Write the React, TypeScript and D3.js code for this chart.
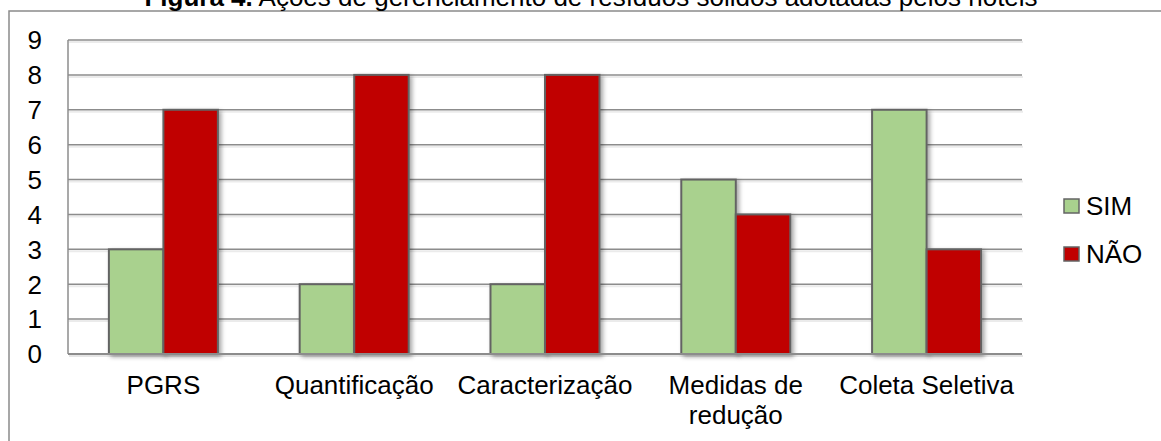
import React from "react";
import * as d3 from "d3";

const categories: string[][] = [
  ["PGRS"],
  ["Quantificação"],
  ["Caracterização"],
  ["Medidas de", "redução"],
  ["Coleta Seletiva"],
];
const categoryKeys = ["PGRS", "Quantificação", "Caracterização", "Medidas de redução", "Coleta Seletiva"];
const seriesNames = ["SIM", "NÃO"];
const simValues = [3, 2, 2, 5, 7];
const naoValues = [7, 8, 8, 4, 3];
const yTicks = [0, 1, 2, 3, 4, 5, 6, 7, 8, 9];
const seriesColors = ["#A9D18E", "#C00000"];

const W = 1161;
const H = 441;
const FONT = "'Liberation Sans', Arial, sans-serif";

export default function App() {
  const plotLeft = 68;
  const plotRight = 1022;
  const plotTop = 40;
  const plotBottom = 354;

  const x0 = d3.scaleBand<string>().domain(categoryKeys).range([plotLeft, plotRight]).padding(0);
  const x1 = d3.scaleBand<string>().domain(seriesNames).range([0, x0.bandwidth()]).paddingInner(0).paddingOuter(0.75);
  const y = d3.scaleLinear().domain([0, 9]).range([plotBottom, plotTop]);

  const seriesValues = [simValues, naoValues];

  return (
    <svg
      width={W}
      height={H}
      style={{ position: "absolute", left: 0, top: 0, background: "#fff" }}
      fontFamily={FONT}
    >
      <defs>
        <filter id="shadow" x="-20%" y="-20%" width="150%" height="150%">
          <feDropShadow dx="2.5" dy="2" stdDeviation="2" floodColor="#000" floodOpacity="0.35" />
        </filter>
      </defs>
      <rect x={0} y={0} width={W} height={H} fill="#fff" />
      {/* outer frame */}
      <rect x={9} y={11} width={W + 20} height={H + 20} fill="none" stroke="#8a8a8a" strokeWidth={1.5} />
      {/* title */}
      <text x={591} y={6} textAnchor="middle" fontSize={26} fill="#000">
        <tspan fontWeight="bold">Figura 4.</tspan>
        <tspan> Ações de gerenciamento de resíduos sólidos adotadas pelos hotéis</tspan>
      </text>

      {/* gridlines with faint shadow */}
      {yTicks.filter((t) => t > 0).map((t) => (
        <g key={"g" + t}>
          <line x1={plotLeft + 1} x2={plotRight + 1} y1={y(t) + 2} y2={y(t) + 2} stroke="#000" strokeOpacity={0.08} strokeWidth={2} />
          <line x1={plotLeft} x2={plotRight} y1={y(t)} y2={y(t)} stroke="#8c8c8c" strokeWidth={1.5} />
        </g>
      ))}
      {/* y axis line */}
      <line x1={plotLeft} x2={plotLeft} y1={plotTop} y2={plotBottom} stroke="#8c8c8c" strokeWidth={1.5} />

      {/* y labels */}
      {yTicks.map((t) => (
        <text key={"y" + t} x={42} y={y(t)} dy="0.36em" textAnchor="end" fontSize={26} fill="#000">
          {t}
        </text>
      ))}

      {/* bars */}
      {categoryKeys.map((c, i) => (
        <g key={c} transform={`translate(${x0(c)},0)`}>
          {seriesNames.map((s, si) => {
            const v = seriesValues[si][i];
            return (
              <rect
                key={s}
                x={x1(s)!}
                y={y(v)}
                width={x1.bandwidth()}
                height={y(0) - y(v)}
                fill={seriesColors[si]}
                stroke="#646464"
                strokeWidth={2}
                filter="url(#shadow)"
              />
            );
          })}
        </g>
      ))}

      {/* x axis line */}
      <line x1={plotLeft + 1} x2={plotRight + 1} y1={plotBottom + 2} y2={plotBottom + 2} stroke="#000" strokeOpacity={0.1} strokeWidth={2} />
      <line x1={plotLeft} x2={plotRight} y1={plotBottom} y2={plotBottom} stroke="#8c8c8c" strokeWidth={2} />

      {/* category labels */}
      {categoryKeys.map((c, i) => (
        <text key={"c" + c} x={x0(c)! + x0.bandwidth() / 2} y={394} textAnchor="middle" fontSize={26} fill="#000">
          {categories[i].map((line, li) => (
            <tspan key={li} x={x0(c)! + x0.bandwidth() / 2} dy={li === 0 ? 0 : 30}>
              {line}
            </tspan>
          ))}
        </text>
      ))}

      {/* legend */}
      {seriesNames.map((s, si) => (
        <g key={"l" + s} transform={`translate(1064, ${199 + si * 48})`}>
          <rect x={0} y={0} width={15} height={14} fill={seriesColors[si]} stroke="#646464" strokeWidth={1.5} />
          <text x={22} y={15.5} fontSize={26} fill="#000">
            {s}
          </text>
        </g>
      ))}
    </svg>
  );
}
